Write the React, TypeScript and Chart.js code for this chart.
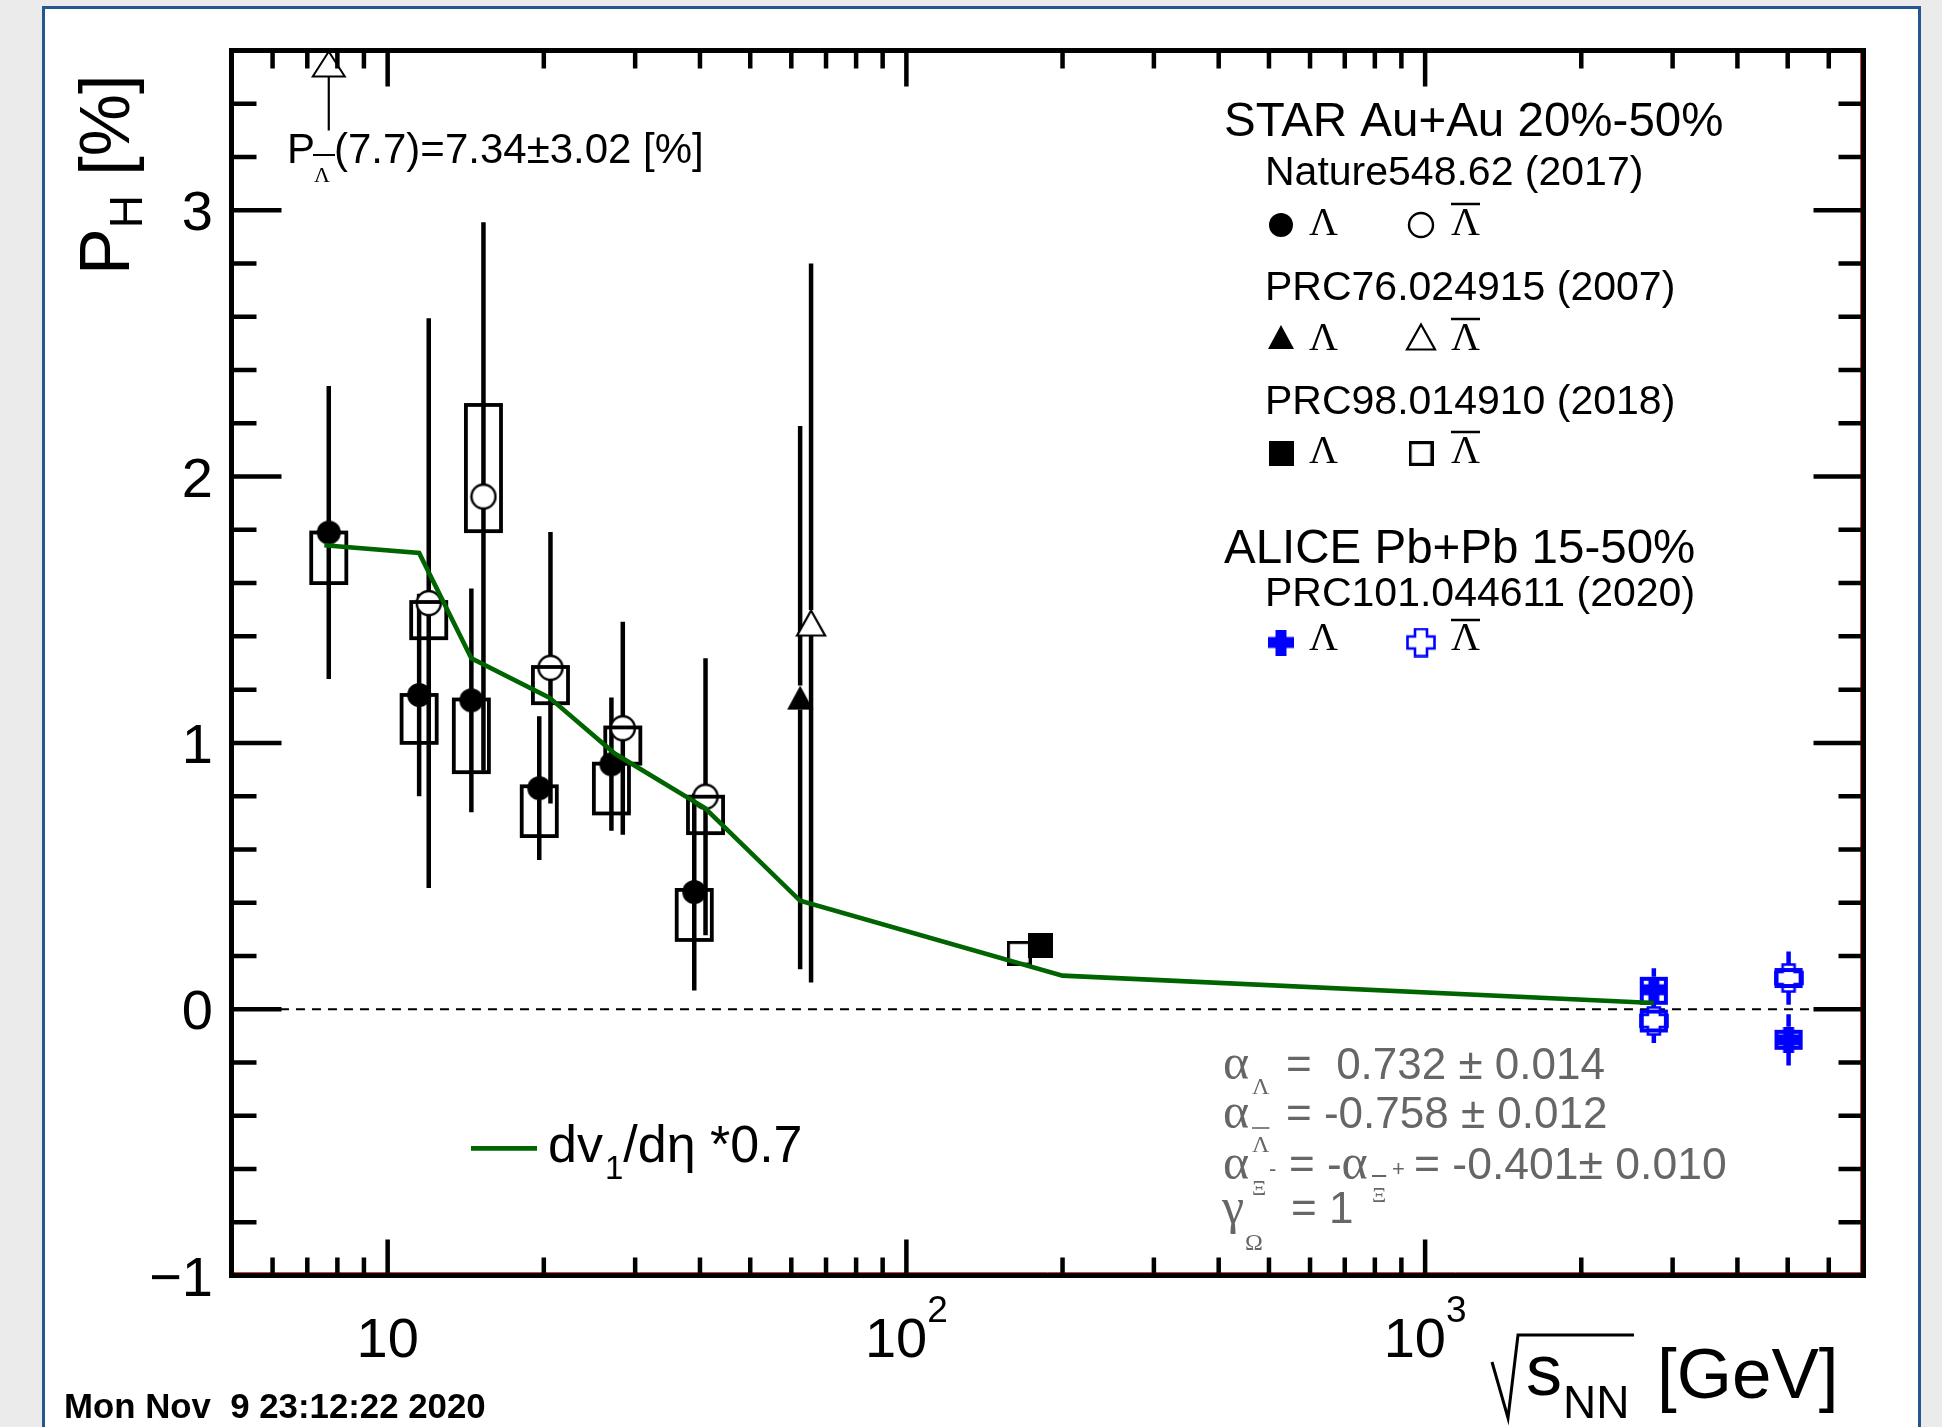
import { useEffect, useRef } from 'react';
import { Chart, registerables } from 'chart.js';

Chart.register(...registerables);

const W = 1942;
const H = 1427;

// ---- STAR Au+Au 20%-50%, Nature 548, 62 (2017) ----
const natureLambdaE = [7.7, 11.5, 14.5, 19.6, 27, 39];
const natureLambdaP = [1.79, 1.18, 1.16, 0.83, 0.92, 0.44];
const natureLambdaStat = [0.55, 0.38, 0.42, 0.27, 0.25, 0.37];
const natureLambdaSysLow = [1.6, 1.0, 0.89, 0.65, 0.735, 0.26];
const natureLambdaSysHigh = [1.79, 1.18, 1.163, 0.837, 0.922, 0.448];

const natureAntiE = [12.0, 15.3, 20.6, 28.4, 41.0];
const natureAntiP = [1.525, 1.925, 1.282, 1.055, 0.798];
const natureAntiStat = [1.07, 1.03, 0.51, 0.4, 0.52];
const natureAntiSysLow = [1.393, 1.795, 1.149, 0.922, 0.661];
const natureAntiSysHigh = [1.529, 2.269, 1.285, 1.058, 0.798];

// anti-Lambda at 7.7 GeV lies above the frame and is shown as an arrow
const offScaleE = [7.7];
const offScaleP = [7.34];
const offScaleStat = [3.02];

// ---- STAR PRC 76, 024915 (2007) ----
const prc76LambdaE = [62.4];
const prc76LambdaP = [1.17];
const prc76LambdaStat = [1.02];
const prc76AntiE = [65.5];
const prc76AntiP = [1.45];
const prc76AntiStat = [1.35];

// ---- STAR PRC 98, 014910 (2018) ----
const prc98LambdaE = [181];
const prc98LambdaP = [0.24];
const prc98LambdaStat = [0.04];
const prc98AntiE = [165];
const prc98AntiP = [0.21];
const prc98AntiStat = [0.04];

// ---- ALICE Pb+Pb 15-50%, PRC 101, 044611 (2020) ----
const aliceLambdaE = [2760, 5020];
const aliceLambdaP = [0.073, -0.115];
const aliceLambdaStat = [0.081, 0.096];
const aliceLambdaSysLow = [0.024, -0.145];
const aliceLambdaSysHigh = [0.114, -0.085];
const aliceAntiE = [2760, 5020];
const aliceAntiP = [-0.044, 0.117];
const aliceAntiStat = [0.083, 0.1];
const aliceAntiSysLow = [-0.08, 0.087];
const aliceAntiSysHigh = [-0.009, 0.147];

// ---- directed-flow slope dv1/deta, scaled by 0.7 ----
const dv1E = [7.55, 11.5, 14.5, 20.5, 27.4, 40.9, 62.4, 200, 2760];
const dv1P = [1.742, 1.713, 1.318, 1.17, 0.96, 0.755, 0.407, 0.126, 0.023];

// ---- axes ----
const xMin = 5;
const xMax = 7000;
const yMin = -1;
const yMax = 3.6;
const xMajorTicks = [10, 100, 1000];
const yMajorTicks = [-1, 0, 1, 2, 3];
const zeroLineStart = 6.2;

const GREEN = '#006400';
const BLUE = '#0000ff';
const GRAY = '#666666';
const SANS = '"Liberation Sans", Helvetica, Arial, sans-serif';
const SERIF = '"Liberation Serif", "Times New Roman", serif';

type Ctx = CanvasRenderingContext2D;

function makeMarker(w: number, h: number, draw: (g: Ctx) => void) {
  const c = document.createElement('canvas');
  c.width = w;
  c.height = h;
  const g = c.getContext('2d') as Ctx;
  draw(g);
  return c;
}

function crossPath(g: Ctx, cx: number, cy: number, s: number, a: number) {
  const h = s / 2;
  g.beginPath();
  g.moveTo(cx - a, cy - h);
  g.lineTo(cx + a, cy - h);
  g.lineTo(cx + a, cy - a);
  g.lineTo(cx + h, cy - a);
  g.lineTo(cx + h, cy + a);
  g.lineTo(cx + a, cy + a);
  g.lineTo(cx + a, cy + h);
  g.lineTo(cx - a, cy + h);
  g.lineTo(cx - a, cy + a);
  g.lineTo(cx - h, cy + a);
  g.lineTo(cx - h, cy - a);
  g.lineTo(cx - a, cy - a);
  g.closePath();
}

function buildMarkers() {
  return {
    circleFilled: makeMarker(26, 26, (g) => {
      g.fillStyle = '#000';
      g.beginPath();
      g.arc(13, 13, 12, 0, Math.PI * 2);
      g.fill();
    }),
    circleOpen: makeMarker(28, 28, (g) => {
      g.beginPath();
      g.arc(14, 14, 12, 0, Math.PI * 2);
      g.fillStyle = '#fff';
      g.fill();
      g.lineWidth = 2.4;
      g.strokeStyle = '#000';
      g.stroke();
    }),
    triFilled: makeMarker(28, 26, (g) => {
      g.beginPath();
      g.moveTo(14, 1);
      g.lineTo(27, 25);
      g.lineTo(1, 25);
      g.closePath();
      g.fillStyle = '#000';
      g.fill();
    }),
    triOpen: makeMarker(32, 30, (g) => {
      g.beginPath();
      g.moveTo(16, 2.5);
      g.lineTo(30, 27.5);
      g.lineTo(2, 27.5);
      g.closePath();
      g.fillStyle = '#fff';
      g.fill();
      g.lineWidth = 2.2;
      g.strokeStyle = '#000';
      g.stroke();
    }),
    squareFilled: makeMarker(25, 25, (g) => {
      g.fillStyle = '#000';
      g.fillRect(0, 0, 25, 25);
    }),
    squareOpen: makeMarker(25, 25, (g) => {
      g.fillStyle = '#fff';
      g.fillRect(0, 0, 25, 25);
      g.lineWidth = 3.2;
      g.strokeStyle = '#000';
      g.strokeRect(1.6, 1.6, 21.8, 21.8);
    }),
    crossFilled: makeMarker(26, 26, (g) => {
      crossPath(g, 13, 13, 26, 5.5);
      g.fillStyle = BLUE;
      g.fill();
    }),
    crossOpen: makeMarker(30, 30, (g) => {
      crossPath(g, 15, 15, 27, 6);
      g.fillStyle = '#fff';
      g.fill();
      g.lineWidth = 2.6;
      g.strokeStyle = BLUE;
      g.stroke();
    }),
  };
}

const pts = (E: number[], P: number[]) => E.map((x, i) => ({ x, y: P[i] }));

function text(ctx: Ctx, s: string, x: number, y: number, size: number, opts: { serif?: boolean; bold?: boolean; color?: string; align?: CanvasTextAlign } = {}) {
  ctx.font = `${opts.bold ? 'bold ' : ''}${size}px ${opts.serif ? SERIF : SANS}`;
  ctx.fillStyle = opts.color || '#000';
  ctx.textAlign = opts.align || 'left';
  ctx.textBaseline = 'alphabetic';
  ctx.fillText(s, x, y);
  return ctx.measureText(s).width;
}

function hline(ctx: Ctx, x0: number, x1: number, y: number, lw: number, color: string) {
  ctx.save();
  ctx.strokeStyle = color;
  ctx.lineWidth = lw;
  ctx.beginPath();
  ctx.moveTo(x0, y);
  ctx.lineTo(x1, y);
  ctx.stroke();
  ctx.restore();
}

function drawErrorBars(chart: any, E: number[], P: number[], S: number[], half: number, color: string) {
  const ctx: Ctx = chart.ctx;
  const xs = chart.scales.x;
  const ys = chart.scales.y;
  ctx.save();
  ctx.strokeStyle = color;
  ctx.lineWidth = 4.5;
  ctx.lineCap = 'butt';
  E.forEach((e, i) => {
    const px = xs.getPixelForValue(e);
    const py = ys.getPixelForValue(P[i]);
    const top = ys.getPixelForValue(P[i] + S[i]);
    const bot = ys.getPixelForValue(P[i] - S[i]);
    ctx.beginPath();
    if (top < py - half) {
      ctx.moveTo(px, top);
      ctx.lineTo(px, py - half);
    }
    if (bot > py + half) {
      ctx.moveTo(px, py + half);
      ctx.lineTo(px, bot);
    }
    ctx.stroke();
  });
  ctx.restore();
}

function drawSysBoxes(chart: any, E: number[], lo: number[], hi: number[], factor: number, color: string, lw: number) {
  const ctx: Ctx = chart.ctx;
  const xs = chart.scales.x;
  const ys = chart.scales.y;
  ctx.save();
  ctx.strokeStyle = color;
  ctx.lineWidth = lw;
  E.forEach((e, i) => {
    const x0 = xs.getPixelForValue(e / factor);
    const x1 = xs.getPixelForValue(e * factor);
    const y0 = ys.getPixelForValue(hi[i]);
    const y1 = ys.getPixelForValue(lo[i]);
    ctx.strokeRect(x0, y0, x1 - x0, y1 - y0);
  });
  ctx.restore();
}

function lambdaGlyph(ctx: Ctx, x: number, baseline: number, size: number, bar: boolean, color = '#000', barY?: number) {
  const w = text(ctx, 'Λ', x, baseline, size, { serif: true, color });
  if (bar) hline(ctx, x, x + w, barY !== undefined ? barY : baseline - size * 0.78, Math.max(1.6, size / 16), color);
  return w;
}

export default function App() {
  const ref = useRef<HTMLCanvasElement | null>(null);

  useEffect(() => {
    const canvas = ref.current;
    if (!canvas) return;
    const m = buildMarkers();

    const panelPlugin = {
      id: 'phPanel',
      beforeDraw(chart: any) {
        const ctx: Ctx = chart.ctx;
        ctx.save();
        ctx.fillStyle = '#ebebeb';
        ctx.fillRect(0, 0, W, H);
        ctx.fillStyle = '#ffffff';
        ctx.fillRect(43, 7, 1877, H - 7);
        ctx.strokeStyle = '#24578f';
        ctx.lineWidth = 3;
        ctx.beginPath();
        ctx.moveTo(43.5, H);
        ctx.lineTo(43.5, 7.5);
        ctx.lineTo(1919.5, 7.5);
        ctx.lineTo(1919.5, H);
        ctx.stroke();
        ctx.restore();
      },
      beforeDatasetsDraw(chart: any) {
        const ctx: Ctx = chart.ctx;
        const xs = chart.scales.x;
        const ys = chart.scales.y;
        const { left, right, top, bottom } = chart.chartArea;
        ctx.save();
        ctx.beginPath();
        ctx.rect(left, top, right - left, bottom - top);
        ctx.clip();
        // dashed zero line
        ctx.save();
        ctx.setLineDash([9, 7]);
        hline(ctx, xs.getPixelForValue(zeroLineStart), right, ys.getPixelForValue(0), 2, '#000');
        ctx.restore();
        // statistical error bars
        drawErrorBars(chart, natureLambdaE, natureLambdaP, natureLambdaStat, 11, '#000');
        drawErrorBars(chart, natureAntiE, natureAntiP, natureAntiStat, 12, '#000');
        drawErrorBars(chart, prc76LambdaE, prc76LambdaP, prc76LambdaStat, 12, '#000');
        drawErrorBars(chart, prc76AntiE, prc76AntiP, prc76AntiStat, 13, '#000');
        drawErrorBars(chart, prc98LambdaE, prc98LambdaP, prc98LambdaStat, 12, '#000');
        drawErrorBars(chart, prc98AntiE, prc98AntiP, prc98AntiStat, 12, '#000');
        drawErrorBars(chart, aliceLambdaE, aliceLambdaP, aliceLambdaStat, 13, BLUE);
        drawErrorBars(chart, aliceAntiE, aliceAntiP, aliceAntiStat, 13, BLUE);
        ctx.restore();

        // off-scale anti-Lambda: arrow pinned to the top of the frame
        const ax = xs.getPixelForValue(offScaleE[0]);
        const ay = ys.getPixelForValue(Math.min(offScaleP[0], yMax));
        ctx.save();
        ctx.strokeStyle = '#000';
        ctx.lineWidth = 2.2;
        ctx.beginPath();
        ctx.moveTo(ax, ay + 26);
        ctx.lineTo(ax, ay + 80);
        ctx.stroke();
        ctx.beginPath();
        ctx.moveTo(ax, ay + 1);
        ctx.lineTo(ax + 16, ay + 26);
        ctx.lineTo(ax - 16, ay + 26);
        ctx.closePath();
        ctx.fillStyle = '#fff';
        ctx.fill();
        ctx.lineWidth = 2;
        ctx.stroke();
        ctx.restore();
      },
      beforeDatasetDraw(chart: any, args: any) {
        if (args.index !== 0) return;
        const ctx: Ctx = chart.ctx;
        const { left, right, top, bottom } = chart.chartArea;
        ctx.save();
        ctx.beginPath();
        ctx.rect(left, top, right - left, bottom - top);
        ctx.clip();
        drawSysBoxes(chart, natureLambdaE, natureLambdaSysLow, natureLambdaSysHigh, 1.081, '#000', 3.8);
        drawSysBoxes(chart, natureAntiE, natureAntiSysLow, natureAntiSysHigh, 1.081, '#000', 3.8);
        drawSysBoxes(chart, aliceLambdaE, aliceLambdaSysLow, aliceLambdaSysHigh, 1.055, BLUE, 4);
        drawSysBoxes(chart, aliceAntiE, aliceAntiSysLow, aliceAntiSysHigh, 1.055, BLUE, 4);
        ctx.restore();
      },
      afterDatasetsDraw(chart: any) {
        const ctx: Ctx = chart.ctx;
        const xs = chart.scales.x;
        const ys = chart.scales.y;
        const { left, right, top, bottom } = chart.chartArea;

        // thin inner hairlines along the bottom and right edges
        ctx.save();
        ctx.strokeStyle = 'rgba(200,0,0,0.75)';
        ctx.lineWidth = 1;
        ctx.beginPath();
        ctx.moveTo(left, bottom - 3);
        ctx.lineTo(right, bottom - 3);
        ctx.moveTo(right - 3, top);
        ctx.lineTo(right - 3, bottom);
        ctx.stroke();
        ctx.restore();

        // ticks
        ctx.save();
        ctx.strokeStyle = '#000';
        ctx.lineWidth = 4.5;
        ctx.beginPath();
        for (let k = 1; k < 23; k++) {
          const v = yMin + 0.2 * k;
          const major = Math.abs(v - Math.round(v)) < 1e-6;
          const len = major ? 50 : 25;
          const py = ys.getPixelForValue(v);
          ctx.moveTo(left, py);
          ctx.lineTo(left + len, py);
          ctx.moveTo(right - len, py);
          ctx.lineTo(right, py);
        }
        for (let dec = 0; dec <= 3; dec++) {
          for (let d = 1; d <= 9; d++) {
            const v = d * Math.pow(10, dec);
            if (v <= xMin || v >= xMax) continue;
            const len = d === 1 ? 36 : 18;
            const px = xs.getPixelForValue(v);
            ctx.moveTo(px, bottom);
            ctx.lineTo(px, bottom - len);
            ctx.moveTo(px, top);
            ctx.lineTo(px, top + len);
          }
        }
        ctx.stroke();
        ctx.lineWidth = 5;
        ctx.strokeRect(left, top, right - left, bottom - top);
        ctx.restore();

        // tick labels
        yMajorTicks.forEach((v) => {
          const label = v < 0 ? '\u2212' + Math.abs(v) : String(v);
          text(ctx, label, 213, ys.getPixelForValue(v) + 20, 56, { align: 'right' });
        });
        xMajorTicks.forEach((v) => {
          const exp = Math.round(Math.log10(v));
          const px = xs.getPixelForValue(v);
          if (exp === 1) {
            text(ctx, '10', px, 1356.5, 56, { align: 'center' });
          } else {
            ctx.font = `56px ${SANS}`;
            const w10 = ctx.measureText('10').width;
            ctx.font = `37px ${SANS}`;
            const ws = ctx.measureText(String(exp)).width;
            const x0 = px - (w10 + ws) / 2;
            text(ctx, '10', x0, 1356.5, 56);
            text(ctx, String(exp), x0 + w10, 1321.5, 37);
          }
        });

        // x-axis title: sqrt(s_NN) [GeV]
        ctx.save();
        ctx.strokeStyle = '#000';
        ctx.lineWidth = 3;
        ctx.beginPath();
        ctx.moveTo(1492, 1362);
        ctx.lineTo(1508, 1418);
        ctx.lineTo(1518, 1335);
        ctx.lineTo(1634, 1335);
        ctx.stroke();
        ctx.restore();
        text(ctx, 's', 1526, 1395, 72);
        text(ctx, 'NN', 1563, 1418, 46);
        text(ctx, '[GeV]', 1657, 1398, 71);

        // y-axis title: P_H [%]
        ctx.save();
        ctx.translate(129, 275);
        ctx.rotate(-Math.PI / 2);
        const wp = text(ctx, 'P', 0, 0, 70);
        const wh = text(ctx, 'H', wp, 13, 46);
        text(ctx, ' [%]', wp + wh, 0, 70);
        ctx.restore();

        // label of the off-scale point
        const wP = text(ctx, 'P', 287, 163, 42);
        hline(ctx, 287 + wP - 2, 287 + wP + 20, 155, 2, '#000');
        text(ctx, 'Λ', 287 + wP - 1, 182, 22, { serif: true });
        text(ctx, `(${offScaleE[0]})=${offScaleP[0].toFixed(2)}±${offScaleStat[0].toFixed(2)} [%]`, 334, 163, 42);

        // legend
        const lx = 1224;
        const rx = 1265;
        const mk1 = 1281;
        const mk2 = 1421;
        const gl1 = 1309;
        const gl2 = 1451;
        const put = (img: HTMLCanvasElement, x: number, y: number) =>
          ctx.drawImage(img, x - img.width / 2, y - img.height / 2);
        text(ctx, 'STAR Au+Au 20%-50%', lx, 135.5, 47.5);
        text(ctx, 'Nature548.62 (2017)', rx, 185, 41);
        put(m.circleFilled, mk1, 225);
        lambdaGlyph(ctx, gl1, 235, 40, false);
        put(m.circleOpen, mk2, 225);
        lambdaGlyph(ctx, gl2, 235, 40, true, '#000', 204);
        text(ctx, 'PRC76.024915 (2007)', rx, 300, 41);
        put(m.triFilled, mk1, 337);
        lambdaGlyph(ctx, gl1, 350, 40, false);
        put(m.triOpen, mk2, 337);
        lambdaGlyph(ctx, gl2, 350, 40, true, '#000', 319);
        text(ctx, 'PRC98.014910 (2018)', rx, 413.7, 41);
        put(m.squareFilled, mk1, 453.5);
        lambdaGlyph(ctx, gl1, 463, 40, false);
        put(m.squareOpen, mk2, 453.5);
        lambdaGlyph(ctx, gl2, 463, 40, true, '#000', 432);
        text(ctx, 'ALICE Pb+Pb 15-50%', lx, 563, 47.5);
        text(ctx, 'PRC101.044611 (2020)', rx, 606.2, 41);
        put(m.crossFilled, mk1, 642.5);
        lambdaGlyph(ctx, gl1, 650, 40, false);
        put(m.crossOpen, mk2, 642.5);
        lambdaGlyph(ctx, gl2, 650, 40, true, '#000', 620);

        // dv1/deta legend entry
        hline(ctx, 471, 537, 1148.3, 4.7, GREEN);
        let tx = 548;
        tx += text(ctx, 'dv', tx, 1161.5, 52);
        tx += text(ctx, '1', tx + 2, 1179, 33) + 2;
        tx += text(ctx, '/d', tx, 1161.5, 52);
        tx += text(ctx, 'η', tx, 1161.5, 52);
        text(ctx, ' *0.7', tx, 1161.5, 52);

        // decay parameters
        const ax = 1223;
        text(ctx, 'α', ax, 1079, 50, { serif: true, color: GRAY });
        text(ctx, 'Λ', 1252, 1094, 24, { serif: true, color: GRAY });
        text(ctx, '=  0.732 ± 0.014', 1286, 1079, 44, { color: GRAY });

        text(ctx, 'α', ax, 1128, 50, { serif: true, color: GRAY });
        lambdaGlyph(ctx, 1252, 1152, 24, true, GRAY, 1128);
        text(ctx, '= -0.758 ± 0.012', 1286, 1128, 44, { color: GRAY });

        text(ctx, 'α', ax, 1179, 50, { serif: true, color: GRAY });
        text(ctx, 'Ξ', 1252, 1195, 22, { serif: true, color: GRAY });
        text(ctx, '-', 1269, 1176, 22, { color: GRAY });
        const we = text(ctx, '= -', 1289, 1179, 44, { color: GRAY });
        text(ctx, 'α', 1289 + we, 1179, 50, { serif: true, color: GRAY });
        const wx = text(ctx, 'Ξ', 1372, 1202, 22, { serif: true, color: GRAY });
        hline(ctx, 1372, 1372 + wx, 1176, 2, GRAY);
        text(ctx, '+', 1392, 1176, 22, { color: GRAY });
        text(ctx, '= -0.401± 0.010', 1414, 1179, 44.5, { color: GRAY });

        text(ctx, 'γ', 1222, 1223, 50, { serif: true, color: GRAY });
        text(ctx, 'Ω', 1245, 1250, 24, { serif: true, color: GRAY });
        text(ctx, '= 1', 1291, 1223, 44, { color: GRAY });

        // time stamp
        text(ctx, 'Mon Nov  9 23:12:22 2020', 64, 1418, 34.8, { bold: true });
      },
    };

    const markerSet = (data: { x: number; y: number }[], style: HTMLCanvasElement) => ({
      data,
      pointStyle: style,
      pointRadius: 12,
      pointHoverRadius: 12,
      showLine: false,
      order: 1,
    });

    const chart = new Chart(canvas, {
      type: 'scatter',
      data: {
        datasets: [
          {
            label: 'dv1/deta *0.7',
            data: pts(dv1E, dv1P),
            showLine: true,
            borderColor: GREEN,
            borderWidth: 4.6,
            pointRadius: 0,
            pointHoverRadius: 0,
            fill: false,
            tension: 0,
            order: 0,
          } as any,
          markerSet(pts(natureLambdaE, natureLambdaP), m.circleFilled),
          markerSet(pts(natureAntiE, natureAntiP), m.circleOpen),
          markerSet(pts(prc76LambdaE, prc76LambdaP), m.triFilled),
          markerSet(pts(prc76AntiE, prc76AntiP), m.triOpen),
          markerSet(pts(prc98LambdaE, prc98LambdaP), m.squareFilled),
          markerSet(pts(prc98AntiE, prc98AntiP), m.squareOpen),
          markerSet(pts(aliceLambdaE, aliceLambdaP), m.crossFilled),
          markerSet(pts(aliceAntiE, aliceAntiP), m.crossOpen),
        ] as any,
      },
      options: {
        animation: false,
        responsive: false,
        devicePixelRatio: 1,
        events: [],
        layout: { padding: { left: 231.5, right: W - 1863.5, top: 50.5, bottom: H - 1275.5 } },
        scales: {
          x: { type: 'logarithmic', min: xMin, max: xMax, display: false },
          y: { type: 'linear', min: yMin, max: yMax, display: false },
        },
        plugins: { legend: { display: false }, tooltip: { enabled: false } },
      } as any,
      plugins: [panelPlugin],
    });

    return () => chart.destroy();
  }, []);

  return (
    <div style={{ position: 'fixed', left: 0, top: 0, width: W, height: H, overflow: 'hidden' }}>
      <canvas ref={ref} width={W} height={H} style={{ display: 'block' }} />
    </div>
  );
}
